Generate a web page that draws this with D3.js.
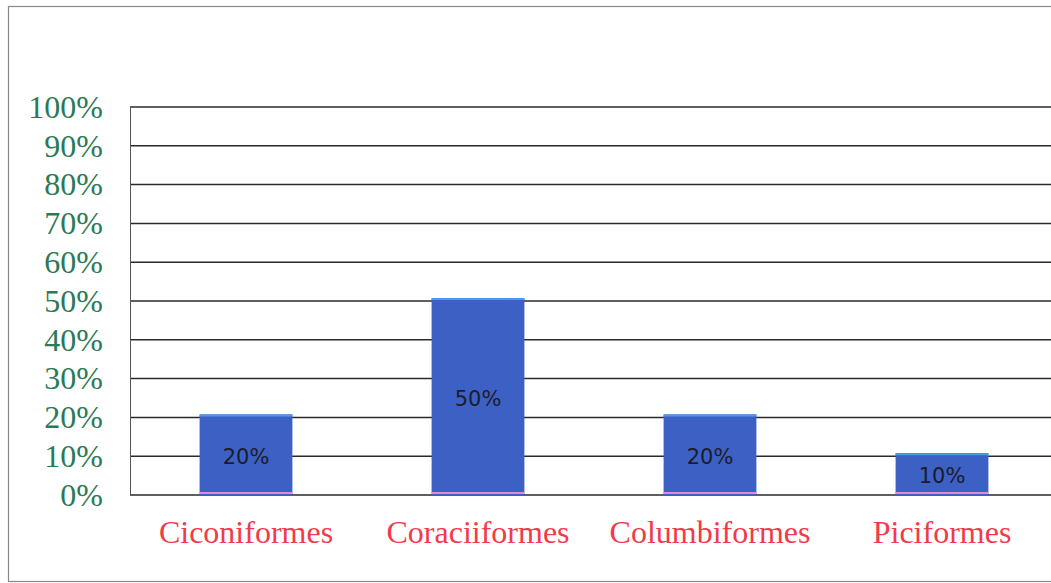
<!DOCTYPE html>
<html lang="en">
    <head>
        <meta charset="UTF-8" />
        <title>Orders</title>
        <script src="https://d3js.org/d3.v7.js"></script>
    </head>
    <body>
        <div id="dataviz"></div>
    </body>

    <script>
        const orders = ["Ciconiformes", "Coraciiformes", "Columbiformes", "Piciformes"];
        const shares = [20, 50, 20, 10];
        const yTicks = [0, 10, 20, 30, 40, 50, 60, 70, 80, 90, 100];

        const W = 1051, H = 583;
        const margin = {top: 107, right: -7, bottom: 88, left: 130};
        const width = W - margin.left - margin.right,
              height = H - margin.top - margin.bottom;

        const root = d3.select("#dataviz")
            .append("svg")
            .attr("width", W)
            .attr("height", H);

        // scanned page frame
        root.append("rect")
            .attr("x", 8.5).attr("y", 6.5)
            .attr("width", W + 10).attr("height", 575)
            .attr("fill", "none")
            .attr("stroke", "#888")
            .attr("stroke-width", 1.2);

        const svg = root.append("g")
            .attr("transform", `translate(${margin.left},${margin.top})`);

        const x = d3.scaleBand()
            .range([0, width])
            .domain(orders)
            .paddingInner(0.6)
            .paddingOuter(0.3);

        const y = d3.scaleLinear()
            .range([height, 0])
            .domain([0, 100]);

        // gridlines
        svg.append("g")
            .selectAll("line")
            .data(yTicks)
            .join("line")
            .attr("x1", 0)
            .attr("x2", width + 20)
            .attr("y1", d => y(d))
            .attr("y2", d => y(d))
            .attr("stroke", "#2a2a2a")
            .attr("stroke-width", 1.5);

        svg.append("line")
            .attr("x1", 0.5).attr("x2", 0.5)
            .attr("y1", 0).attr("y2", height)
            .attr("stroke", "#555")
            .attr("stroke-width", 1);

        // y labels
        svg.append("g")
            .call(d3.axisLeft(y).tickValues(yTicks).tickFormat(d => d + "%").tickSize(0).tickPadding(27))
            .call(g => g.select(".domain").remove())
            .selectAll("text")
            .attr("font-family", "'Liberation Serif', 'Times New Roman', serif")
            .attr("font-size", 32)
            .attr("fill", "#2a7a55");

        // bars
        svg.selectAll(".bar")
            .data(orders)
            .join("rect")
            .attr("class", "bar")
            .attr("x", d => x(d))
            .attr("y", (d, i) => y(shares[i]) - 3)
            .attr("width", x.bandwidth())
            .attr("height", (d, i) => height - y(shares[i]) + 3)
            .attr("fill", "#3c60c3");

        svg.selectAll(".bartop")
            .data(orders)
            .join("line")
            .attr("class", "bartop")
            .attr("x1", d => x(d))
            .attr("x2", d => x(d) + x.bandwidth())
            .attr("y1", (d, i) => y(shares[i]) - 2)
            .attr("y2", (d, i) => y(shares[i]) - 2)
            .attr("stroke", "#4a9be6")
            .attr("stroke-width", 2);

        svg.selectAll(".barbase")
            .data(orders)
            .join("line")
            .attr("class", "barbase")
            .attr("x1", d => x(d))
            .attr("x2", d => x(d) + x.bandwidth())
            .attr("y1", height - 2)
            .attr("y2", height - 2)
            .attr("stroke", "#e28ad8")
            .attr("stroke-width", 2);

        svg.selectAll(".val")
            .data(orders)
            .join("text")
            .attr("class", "val")
            .attr("x", d => x(d) + x.bandwidth() / 2)
            .attr("y", (d, i) => y(shares[i] / 2))
            .attr("dy", "0.36em")
            .attr("text-anchor", "middle")
            .attr("font-family", "'DejaVu Sans', sans-serif")
            .attr("font-size", 21)
            .attr("fill", "#1c1c2a")
            .text((d, i) => shares[i] + "%");

        // category labels
        svg.append("g")
            .attr("transform", `translate(0, ${height})`)
            .call(d3.axisBottom(x).tickSize(0).tickPadding(25))
            .call(g => g.select(".domain").remove())
            .selectAll("text")
            .attr("font-family", "'Liberation Serif', 'Times New Roman', serif")
            .attr("font-size", 32)
            .attr("fill", "#f23a4a");
    </script>

    <style>
        body { margin: 0; background: #fff; }
        svg { display: block; }
    </style>
</html>
